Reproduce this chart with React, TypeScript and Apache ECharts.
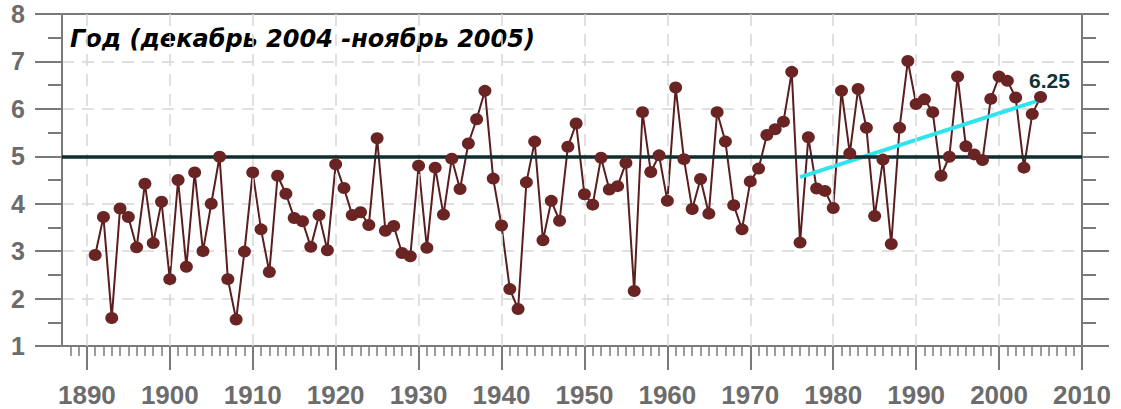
import React, { useEffect, useRef } from "react";
import * as echarts from "echarts";

const titleText = "Год (декабрь 2004 -ноябрь 2005)";
const firstYear = 1891;
const values = [
  2.92, 3.72, 1.59, 3.9, 3.72, 3.08, 4.42, 3.17, 4.04, 2.41,
  4.5, 2.67, 4.66, 3.0, 4.0, 4.99, 2.41, 1.56, 2.99, 4.66,
  3.46, 2.56, 4.59, 4.21, 3.7, 3.63, 3.09, 3.76, 3.02, 4.83,
  4.33, 3.76, 3.82, 3.55, 5.38, 3.43, 3.53, 2.96, 2.89, 4.8,
  3.07, 4.76, 3.77, 4.95, 4.31, 5.27, 5.78, 6.38, 4.53, 3.54,
  2.2, 1.78, 4.45, 5.31, 3.23, 4.06, 3.64, 5.2, 5.69, 4.2,
  3.98, 4.97, 4.3, 4.37, 4.86, 2.16, 5.93, 4.67, 5.02, 4.06,
  6.45, 4.94, 3.89, 4.52, 3.79, 5.93, 5.31, 3.97, 3.46, 4.47,
  4.74, 5.45, 5.57, 5.73, 6.78, 3.18, 5.4, 4.32, 4.27, 3.91,
  6.38, 5.06, 6.42, 5.6, 3.74, 4.93, 3.15, 5.6, 7.01, 6.1,
  6.2, 5.93, 4.59, 4.99, 6.68, 5.21, 5.04, 4.92, 6.21, 6.68,
  6.59, 6.24, 4.76, 5.89, 6.25,
];
const meanValue = 5.0;
const trendYears = [1976, 2005];
const trendValues = [4.56, 6.19];
const trendLabel = "6.25";
const decadeTicks = [1890, 1900, 1910, 1920, 1930, 1940, 1950, 1960, 1970, 1980, 1990, 2000, 2010];
const gridDecades = [1890, 1900, 1910, 1920, 1930, 1940, 1950, 1960, 1970, 1980, 1990, 2000];
const xMin = 1887;
const xMax = 2010;
const yMin = 1;
const yMax = 8;

const FONT = '"Liberation Sans", Arial, sans-serif';
const TITLE_FONT = '"DejaVu Sans", "Liberation Sans", sans-serif';
const AXIS = "#7a7a7a";
const LABEL = "#6c6c6c";

export default function App() {
  const ref = useRef<HTMLDivElement>(null);
  useEffect(() => {
    document.body.style.margin = "0";
    const chart = echarts.init(ref.current!, null, { renderer: "svg" });
    const points = values.map((v, i) => [firstYear + i, v]);
    const minorYears: number[] = [];
    for (let y = xMin + 1; y < xMax; y++) if (y % 10 !== 0) minorYears.push(y);

    const xCommon = {
      type: "value",
      min: xMin,
      max: xMax,
      position: "bottom",
      splitLine: { show: false },
    };
    const yCommon = {
      type: "value",
      min: yMin,
      max: yMax,
      interval: 1,
      axisLine: { show: true, lineStyle: { color: AXIS, width: 2 } },
      axisTick: { show: true, length: 27, lineStyle: { color: AXIS, width: 2 } },
      minorTick: { show: true, splitNumber: 2, length: 14, lineStyle: { color: AXIS, width: 2 } },
    };

    chart.setOption({
      animation: false,
      grid: {
        left: 62,
        right: 39,
        top: 14,
        bottom: 63,
        show: true,
        borderColor: AXIS,
        borderWidth: 2,
        backgroundColor: "transparent",
      },
      xAxis: [
        {
          ...xCommon,
          axisLine: { show: true, lineStyle: { color: AXIS, width: 2 } },
          axisTick: {
            show: true,
            customValues: decadeTicks,
            length: 24,
            lineStyle: { color: AXIS, width: 2 },
          },
          axisLabel: {
            show: true,
            customValues: decadeTicks,
            formatter: (v: number) => String(v),
            margin: 36,
            color: LABEL,
            fontSize: 26,
            fontWeight: "bold",
            fontFamily: FONT,
          },
        },
        {
          ...xCommon,
          axisLine: { show: false },
          axisTick: {
            show: true,
            customValues: minorYears,
            length: 10,
            lineStyle: { color: AXIS, width: 1.5 },
          },
          axisLabel: { show: false },
        },
      ],
      yAxis: [
        {
          ...yCommon,
          position: "left",
          axisLabel: {
            show: true,
            margin: 37,
            color: LABEL,
            fontSize: 25,
            fontWeight: "bold",
            fontFamily: FONT,
          },
          splitLine: {
            show: true,
            showMinLine: false,
            showMaxLine: false,
            lineStyle: { color: "#d6d6d6", width: 1.5, type: [12, 8] },
          },
        },
        {
          ...yCommon,
          position: "right",
          axisLabel: { show: false },
          splitLine: { show: false },
        },
      ],
      series: [
        {
          type: "line",
          xAxisIndex: 0,
          yAxisIndex: 0,
          data: points,
          showSymbol: false,
          lineStyle: { opacity: 0, width: 0 },
          silent: true,
          z: 1,
          markLine: {
            silent: true,
            symbol: "none",
            label: { show: false },
            lineStyle: { color: "#d6d6d6", width: 1.5, type: [12, 8] },
            data: gridDecades.map((d) => ({ xAxis: d })),
          },
        },
        {
          type: "line",
          xAxisIndex: 0,
          yAxisIndex: 0,
          data: points,
          showSymbol: false,
          lineStyle: { color: "#5a1e1e", width: 2 },
          z: 2,
        },
        {
          type: "line",
          xAxisIndex: 0,
          yAxisIndex: 0,
          data: points,
          showSymbol: false,
          lineStyle: { opacity: 0, width: 0 },
          silent: true,
          z: 3,
          markLine: {
            silent: true,
            symbol: "none",
            label: { show: false },
            lineStyle: { color: "#0f2d2d", width: 3.5, type: "solid" },
            data: [{ yAxis: meanValue }],
          },
        },
        {
          type: "line",
          xAxisIndex: 0,
          yAxisIndex: 0,
          data: trendYears.map((y, i) => [y, trendValues[i]]),
          showSymbol: false,
          symbol: "none",
          lineStyle: { color: "#30e4ee", width: 4 },
          z: 4,
          markPoint: {
            silent: true,
            symbol: "circle",
            symbolSize: 2,
            itemStyle: { color: "transparent" },
            data: [
              {
                coord: [trendYears[1], trendValues[1]],
                label: {
                  show: true,
                  formatter: trendLabel,
                  position: "top",
                  distance: 5,
                  offset: [9, -3],
                  color: "#0d3535",
                  fontSize: 21,
                  fontWeight: "bold",
                  fontFamily: FONT,
                },
              },
            ],
          },
        },
        {
          type: "scatter",
          xAxisIndex: 0,
          yAxisIndex: 0,
          data: points,
          symbol: "circle",
          symbolSize: [13, 12],
          itemStyle: { color: "#6a2424", opacity: 1 },
          z: 5,
        },
      ],
      graphic: [
        {
          type: "text",
          left: 70,
          top: 27,
          style: {
            text: titleText,
            fill: "#000",
            font: `italic bold 24px ${TITLE_FONT}`,
          },
        },
      ],
    });
    return () => chart.dispose();
  }, []);
  return <div ref={ref} style={{ width: 1121, height: 409 }} />;
}
